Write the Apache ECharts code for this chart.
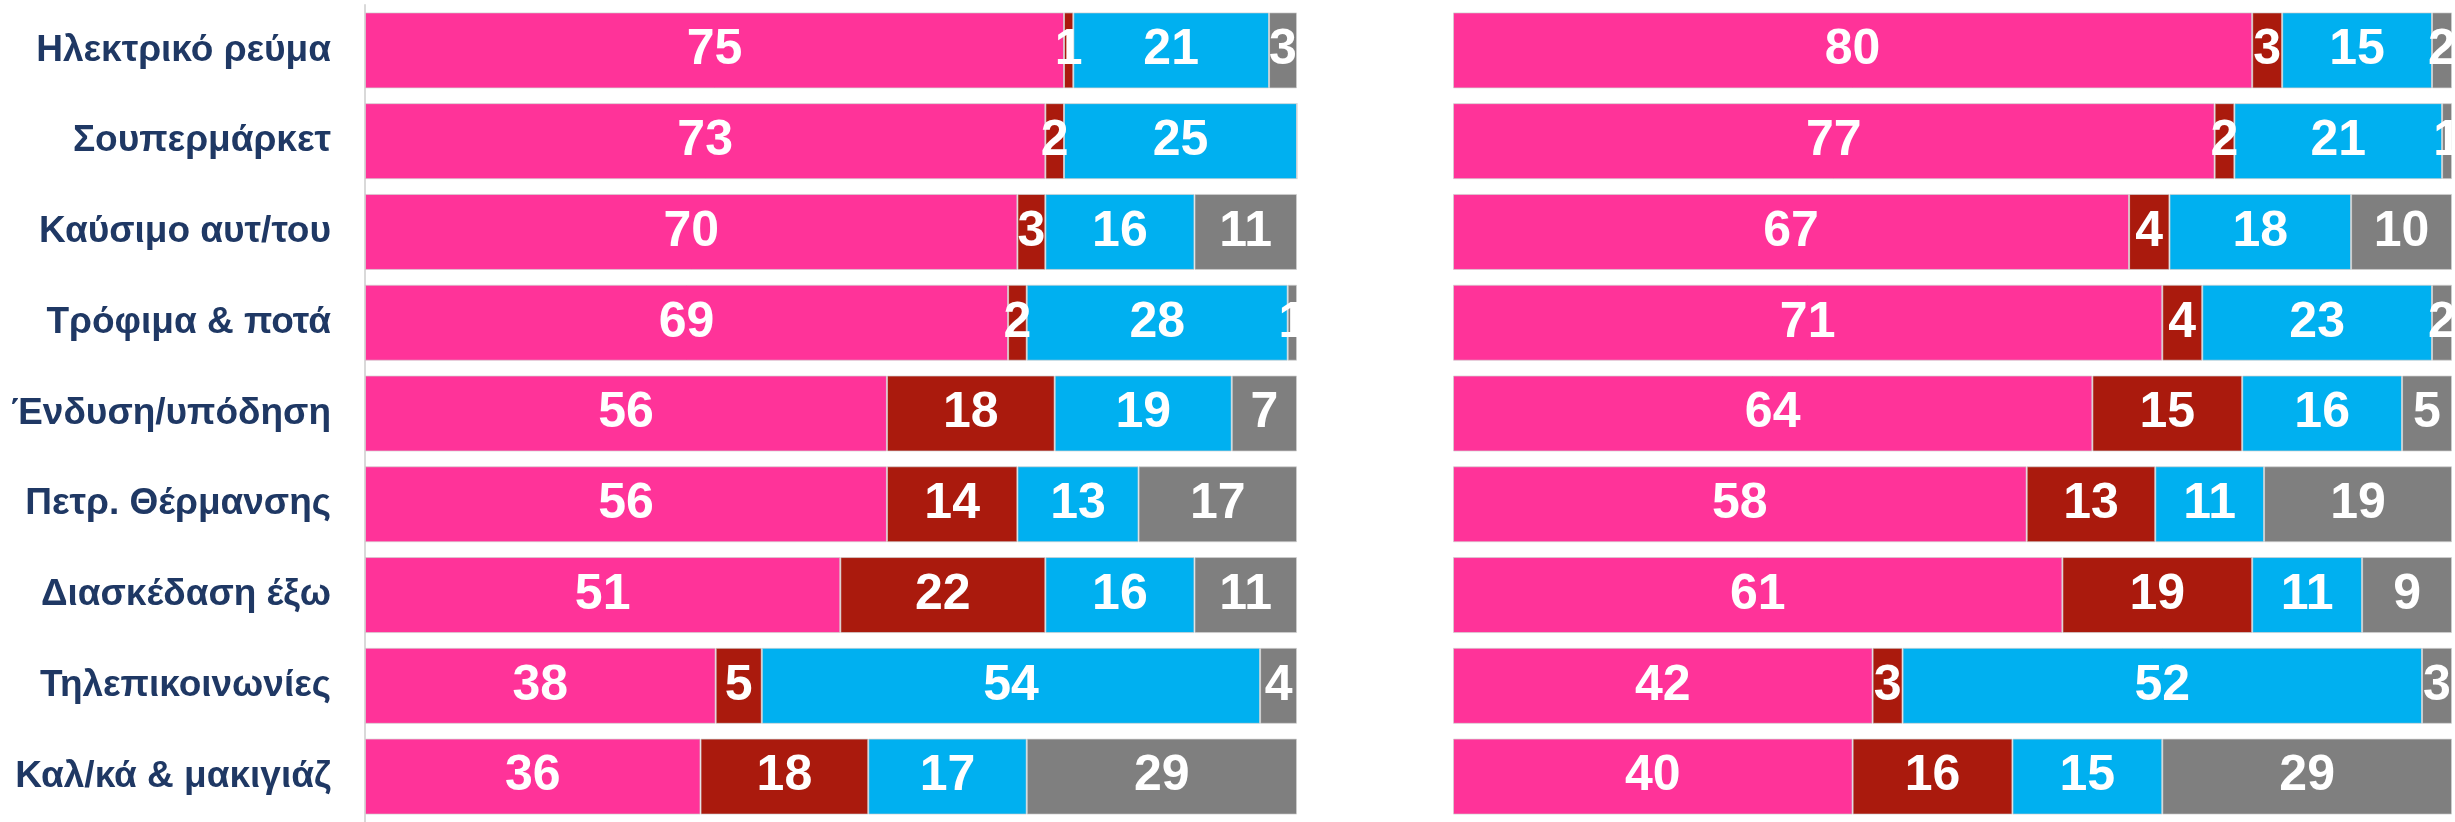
<!DOCTYPE html>
<html>
<head>
<meta charset="utf-8">
<script src="https://cdn.jsdelivr.net/npm/echarts@6/dist/echarts.min.js"></script>
<style>
  html, body { margin: 0; padding: 0; background: #fff; }
  #chart { width: 2455px; height: 822px; }
</style>
</head>
<body>
<div id="chart"></div>
<script>
const categories = ['Ηλεκτρικό ρεύμα', 'Σουπερμάρκετ', 'Καύσιμο αυτ/του', 'Τρόφιμα & ποτά',
  'Ένδυση/υπόδηση', 'Πετρ. Θέρμανσης', 'Διασκέδαση έξω', 'Τηλεπικοινωνίες', 'Καλ/κά & μακιγιάζ']

// left panel
const leftPink = [75, 73, 70, 69, 56, 56, 51, 38, 36]
const leftRed = [1, 2, 3, 2, 18, 14, 22, 5, 18]
const leftBlue = [21, 25, 16, 28, 19, 13, 16, 54, 17]
const leftGray = [3, 0, 11, 1, 7, 17, 11, 4, 29]

// right panel
const rightPink = [80, 77, 67, 71, 64, 58, 61, 42, 40]
const rightRed = [3, 2, 4, 4, 15, 13, 19, 3, 16]
const rightBlue = [15, 21, 18, 23, 16, 11, 11, 52, 15]
const rightGray = [2, 1, 10, 2, 5, 19, 9, 3, 29]

const colors = ['#FF3399', '#AA1A0D', '#00B0F0', '#7F7F7F']
const font = "'Liberation Sans', Arial, sans-serif"

// 100% stacked: each row is scaled to its own total, labels keep the raw value
function makeSeries(groups, idx) {
  const totals = categories.map((c, i) => groups.reduce((s, g) => s + g[i], 0))
  return groups.map((vals, k) => ({
    type: 'bar',
    stack: 'p' + idx,
    xAxisIndex: idx,
    yAxisIndex: idx,
    barWidth: 76,
    itemStyle: { color: colors[k], borderColor: 'rgba(210,210,210,0.7)', borderWidth: 1 },
    label: {
      show: true,
      position: 'inside',
      color: '#fff',
      fontFamily: font,
      fontWeight: 'bold',
      fontSize: 50,
      formatter: p => vals[p.dataIndex] ? String(vals[p.dataIndex]) : ''
    },
    data: vals.map((v, i) => v / totals[i] * 100)
  }))
}

const chart = echarts.init(document.getElementById('chart'))
chart.setOption({
  animation: false,
  grid: [
    { left: 365, width: 932, top: 5, height: 828 },
    { left: 1453, width: 999, top: 5, height: 828 }
  ],
  xAxis: [0, 1].map(i => ({
    type: 'value', gridIndex: i, min: 0, max: 100, show: false
  })),
  yAxis: [0, 1].map(i => ({
    type: 'category',
    gridIndex: i,
    inverse: true,
    data: categories,
    axisLine: { show: i === 0, lineStyle: { color: '#d9d9d9', width: 2 } },
    axisTick: { show: false },
    splitLine: { show: false },
    axisLabel: {
      show: i === 0,
      margin: 34,
      color: '#1F3864',
      fontFamily: font,
      fontWeight: 'bold',
      fontSize: 37
    }
  })),
  series: [
    ...makeSeries([leftPink, leftRed, leftBlue, leftGray], 0),
    ...makeSeries([rightPink, rightRed, rightBlue, rightGray], 1)
  ]
})
</script>
</body>
</html>
